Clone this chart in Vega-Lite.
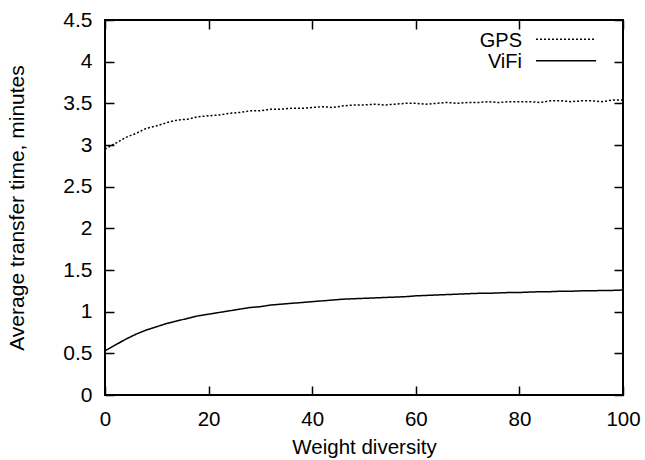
{
  "$schema": "https://vega.github.io/schema/vega-lite/v6.json",
  "autosize": "none",
  "width": 518,
  "height": 375,
  "padding": {"left": 105, "top": 20, "right": 22, "bottom": 65},
  "background": "white",
  "config": {
    "font": "Liberation Sans",
    "view": {"stroke": "black", "strokeWidth": 2}
  },
  "datasets": {
    "curves": [
      {"series": "GPS", "w": 0, "t": 2.95}, {"series": "GPS", "w": 2, "t": 3.02}, {"series": "GPS", "w": 4, "t": 3.09},
      {"series": "GPS", "w": 6, "t": 3.14}, {"series": "GPS", "w": 8, "t": 3.2}, {"series": "GPS", "w": 10, "t": 3.23},
      {"series": "GPS", "w": 12, "t": 3.27}, {"series": "GPS", "w": 14, "t": 3.3}, {"series": "GPS", "w": 16, "t": 3.31},
      {"series": "GPS", "w": 18, "t": 3.34}, {"series": "GPS", "w": 20, "t": 3.35}, {"series": "GPS", "w": 22, "t": 3.36},
      {"series": "GPS", "w": 24, "t": 3.38}, {"series": "GPS", "w": 26, "t": 3.39}, {"series": "GPS", "w": 28, "t": 3.41},
      {"series": "GPS", "w": 30, "t": 3.41}, {"series": "GPS", "w": 32, "t": 3.43}, {"series": "GPS", "w": 34, "t": 3.43},
      {"series": "GPS", "w": 36, "t": 3.44}, {"series": "GPS", "w": 38, "t": 3.44}, {"series": "GPS", "w": 40, "t": 3.45},
      {"series": "GPS", "w": 42, "t": 3.46}, {"series": "GPS", "w": 44, "t": 3.45}, {"series": "GPS", "w": 46, "t": 3.47},
      {"series": "GPS", "w": 48, "t": 3.48}, {"series": "GPS", "w": 50, "t": 3.48}, {"series": "GPS", "w": 52, "t": 3.49},
      {"series": "GPS", "w": 54, "t": 3.48}, {"series": "GPS", "w": 56, "t": 3.49}, {"series": "GPS", "w": 58, "t": 3.5},
      {"series": "GPS", "w": 60, "t": 3.5}, {"series": "GPS", "w": 62, "t": 3.49}, {"series": "GPS", "w": 64, "t": 3.5},
      {"series": "GPS", "w": 66, "t": 3.51}, {"series": "GPS", "w": 68, "t": 3.5}, {"series": "GPS", "w": 70, "t": 3.51},
      {"series": "GPS", "w": 72, "t": 3.51}, {"series": "GPS", "w": 74, "t": 3.52}, {"series": "GPS", "w": 76, "t": 3.51},
      {"series": "GPS", "w": 78, "t": 3.52}, {"series": "GPS", "w": 80, "t": 3.52}, {"series": "GPS", "w": 82, "t": 3.52},
      {"series": "GPS", "w": 84, "t": 3.51}, {"series": "GPS", "w": 86, "t": 3.53}, {"series": "GPS", "w": 88, "t": 3.53},
      {"series": "GPS", "w": 90, "t": 3.52}, {"series": "GPS", "w": 92, "t": 3.53}, {"series": "GPS", "w": 94, "t": 3.53},
      {"series": "GPS", "w": 96, "t": 3.52}, {"series": "GPS", "w": 98, "t": 3.54}, {"series": "GPS", "w": 100, "t": 3.54},
      {"series": "ViFi", "w": 0, "t": 0.53}, {"series": "ViFi", "w": 2, "t": 0.6}, {"series": "ViFi", "w": 4, "t": 0.67},
      {"series": "ViFi", "w": 6, "t": 0.73}, {"series": "ViFi", "w": 8, "t": 0.78}, {"series": "ViFi", "w": 10, "t": 0.82},
      {"series": "ViFi", "w": 12, "t": 0.86}, {"series": "ViFi", "w": 14, "t": 0.89}, {"series": "ViFi", "w": 16, "t": 0.92},
      {"series": "ViFi", "w": 18, "t": 0.95}, {"series": "ViFi", "w": 20, "t": 0.97}, {"series": "ViFi", "w": 22, "t": 0.99},
      {"series": "ViFi", "w": 24, "t": 1.01}, {"series": "ViFi", "w": 26, "t": 1.03}, {"series": "ViFi", "w": 28, "t": 1.05},
      {"series": "ViFi", "w": 30, "t": 1.06}, {"series": "ViFi", "w": 32, "t": 1.08}, {"series": "ViFi", "w": 34, "t": 1.09},
      {"series": "ViFi", "w": 36, "t": 1.1}, {"series": "ViFi", "w": 38, "t": 1.11}, {"series": "ViFi", "w": 40, "t": 1.12},
      {"series": "ViFi", "w": 42, "t": 1.13}, {"series": "ViFi", "w": 44, "t": 1.14}, {"series": "ViFi", "w": 46, "t": 1.15},
      {"series": "ViFi", "w": 48, "t": 1.155}, {"series": "ViFi", "w": 50, "t": 1.16}, {"series": "ViFi", "w": 52, "t": 1.165},
      {"series": "ViFi", "w": 54, "t": 1.17}, {"series": "ViFi", "w": 56, "t": 1.175}, {"series": "ViFi", "w": 58, "t": 1.18},
      {"series": "ViFi", "w": 60, "t": 1.19}, {"series": "ViFi", "w": 62, "t": 1.195}, {"series": "ViFi", "w": 64, "t": 1.2},
      {"series": "ViFi", "w": 66, "t": 1.205}, {"series": "ViFi", "w": 68, "t": 1.21}, {"series": "ViFi", "w": 70, "t": 1.215},
      {"series": "ViFi", "w": 72, "t": 1.22}, {"series": "ViFi", "w": 74, "t": 1.22}, {"series": "ViFi", "w": 76, "t": 1.225},
      {"series": "ViFi", "w": 78, "t": 1.23}, {"series": "ViFi", "w": 80, "t": 1.23}, {"series": "ViFi", "w": 82, "t": 1.235},
      {"series": "ViFi", "w": 84, "t": 1.24}, {"series": "ViFi", "w": 86, "t": 1.24}, {"series": "ViFi", "w": 88, "t": 1.245},
      {"series": "ViFi", "w": 90, "t": 1.245}, {"series": "ViFi", "w": 92, "t": 1.25}, {"series": "ViFi", "w": 94, "t": 1.25},
      {"series": "ViFi", "w": 96, "t": 1.255}, {"series": "ViFi", "w": 98, "t": 1.255}, {"series": "ViFi", "w": 100, "t": 1.26}
    ]
  },
  "resolve": {"axis": {"x": "independent", "y": "independent"}},
  "layer": [
    {
      "data": {"name": "curves"},
      "mark": {"type": "line", "color": "black", "strokeWidth": 1.5, "clip": true},
      "encoding": {
        "x": {
          "field": "w", "type": "quantitative",
          "scale": {"domain": [0, 100], "nice": false, "zero": false},
          "axis": {
            "orient": "bottom", "values": [0, 20, 40, 60, 80, 100], "format": "d",
            "domain": false, "grid": false, "tickColor": "black", "tickWidth": 1.5, "tickSize": -9,
            "labelColor": "black", "labelFontSize": 20.5, "labelFont": "Liberation Sans", "labelPadding": 23,
            "labelFlush": false, "labelOverlap": false,
            "title": "Weight diversity", "titleFontSize": 20.5, "titleFont": "Liberation Sans", "titleFontWeight": "normal",
            "titleColor": "black", "titlePadding": 8
          }
        },
        "y": {
          "field": "t", "type": "quantitative",
          "scale": {"domain": [0, 4.5], "nice": false},
          "axis": {
            "orient": "left", "values": [0, 0.5, 1, 1.5, 2, 2.5, 3, 3.5, 4, 4.5], "format": "~g",
            "domain": false, "grid": false, "tickColor": "black", "tickWidth": 1.5, "tickSize": -9,
            "labelColor": "black", "labelFontSize": 21, "labelFont": "Liberation Sans", "labelPadding": 22,
            "labelFlush": false, "labelOverlap": false,
            "title": "Average transfer time, minutes", "titleFontSize": 21, "titleFont": "Liberation Sans", "titleFontWeight": "normal",
            "titleColor": "black", "titlePadding": 35
          }
        },
        "detail": {"field": "series"},
        "strokeDash": {
          "field": "series", "type": "nominal",
          "scale": {"domain": ["GPS", "ViFi"], "range": [[2, 2], [1, 0]]},
          "legend": null
        }
      }
    },
    {
      "data": {"name": "curves"},
      "mark": {"type": "line", "opacity": 0},
      "encoding": {
        "x": {
          "field": "w", "type": "quantitative",
          "axis": {"orient": "top", "values": [0, 20, 40, 60, 80, 100], "labels": false, "title": null,
                   "domain": false, "grid": false, "tickColor": "black", "tickWidth": 1.5, "tickSize": -9}
        },
        "y": {
          "field": "t", "type": "quantitative",
          "axis": {"orient": "right", "values": [0, 0.5, 1, 1.5, 2, 2.5, 3, 3.5, 4, 4.5], "labels": false, "title": null,
                   "domain": false, "grid": false, "tickColor": "black", "tickWidth": 1.5, "tickSize": -9}
        }
      }
    },
    {
      "data": {"values": [{"series": "GPS", "ly": 4.25}, {"series": "ViFi", "ly": 4.0}]},
      "mark": {"type": "text", "align": "right", "baseline": "middle", "fontSize": 20, "font": "Liberation Sans", "color": "black"},
      "encoding": {
        "x": {"datum": 80.5, "type": "quantitative", "axis": null},
        "y": {"field": "ly", "type": "quantitative", "axis": null},
        "text": {"field": "series"}
      }
    },
    {
      "data": {"values": [{"series": "GPS", "ly": 4.27}, {"series": "ViFi", "ly": 4.01}]},
      "mark": {"type": "rule", "color": "black", "strokeWidth": 1.5},
      "encoding": {
        "x": {"datum": 83.2, "type": "quantitative", "axis": null},
        "x2": {"datum": 94.8},
        "y": {"field": "ly", "type": "quantitative", "axis": null},
        "strokeDash": {
          "field": "series", "type": "nominal",
          "scale": {"domain": ["GPS", "ViFi"], "range": [[2, 2], [1, 0]]},
          "legend": null
        }
      }
    }
  ]
}
